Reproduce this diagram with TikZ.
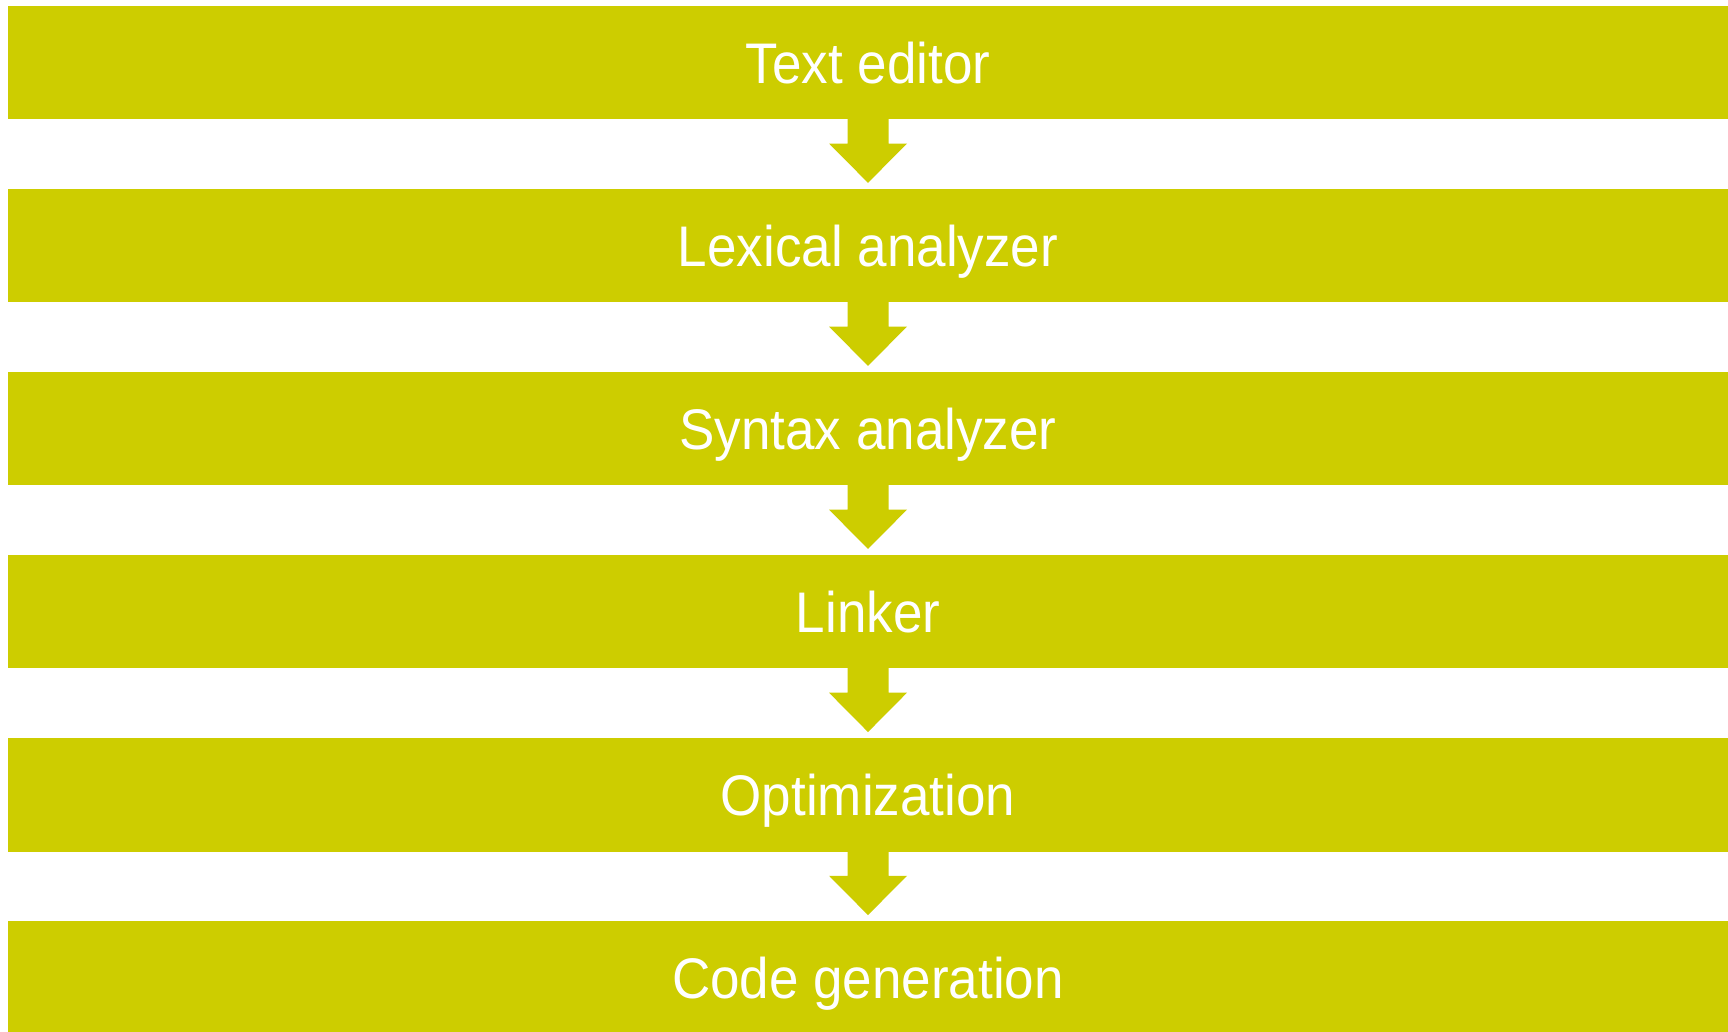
\documentclass[tikz,border=0pt]{standalone}
\usepackage{fontspec}
\setmainfont{Liberation Sans}
\usetikzlibrary{calc}
\definecolor{boxy}{RGB}{205,205,0}
\begin{document}
\begin{tikzpicture}[x=1pt,y=-1pt,
  stage/.style={fill=boxy, text=white, minimum width=1720pt, minimum height=113.3pt,
    inner sep=0pt, text height=41pt, text depth=0pt,
    font=\fontsize{53}{60}\selectfont},
  flow/.style={fill=boxy, draw=none}]
\useasboundingbox (0,0) rectangle (1728,1031);
\node[stage] (s1) at (868,62.65)  {\scalebox{1}[1.08]{Text editor}};
\node[stage] (s2) at (868,245.71) {\scalebox{1}[1.08]{Lexical analyzer}};
\node[stage] (s3) at (868,428.77) {\scalebox{1}[1.08]{Syntax analyzer}};
\node[stage] (s4) at (868,611.83) {\scalebox{1}[1.08]{Linker}};
\node[stage] (s5) at (868,794.89) {\scalebox{1}[1.08]{Optimization}};
\node[stage] (s6) at (868,977.95) {\scalebox{1}[1.08]{Code generation}};
\foreach \a/\b in {s1/s2,s2/s3,s3/s4,s4/s5,s5/s6}{
  \fill[flow] ($(\a.south)+(-20.5,-1)$) -- ($(\a.south)+(-20.5,24)$)
    -- ($(\a.south)+(-39,24)$) -- ($(\b.north)+(0,-6)$)
    -- ($(\a.south)+(39,24)$) -- ($(\a.south)+(20.5,24)$)
    -- ($(\a.south)+(20.5,-1)$) -- cycle;
}
\end{tikzpicture}
\end{document}
